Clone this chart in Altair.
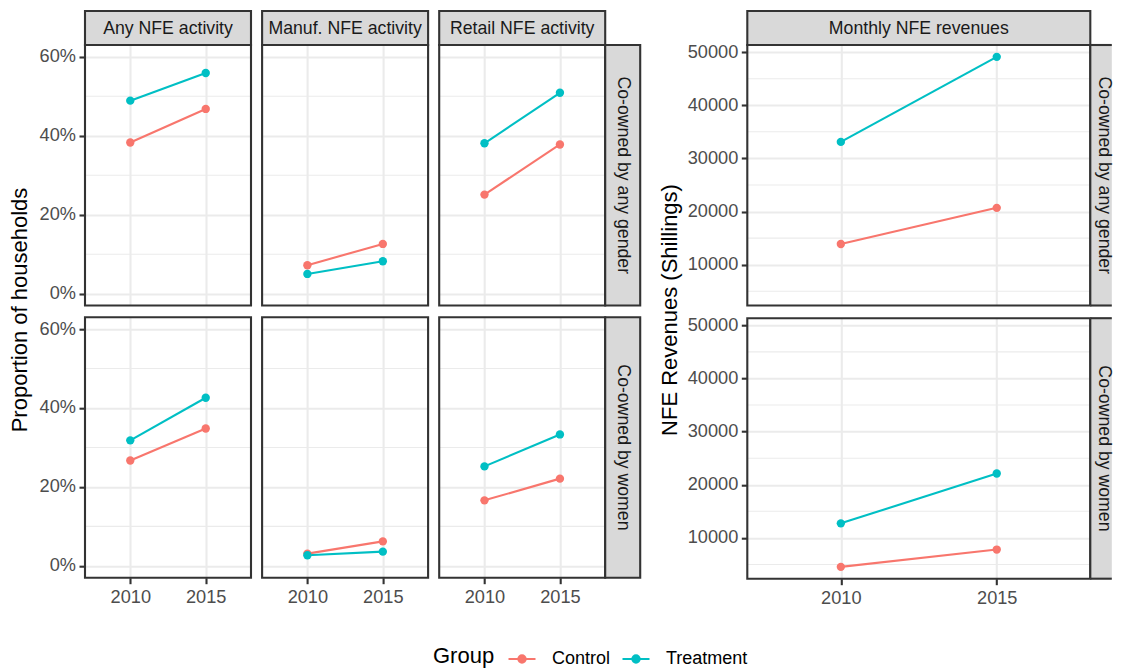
import altair as alt
import pandas as pd

FONT = "Liberation Sans"

years = [2010, 2015]
groups = ["Control", "Treatment"]
group_colors = ["#F8766D", "#00BFC4"]
activities = ["Any NFE activity", "Manuf. NFE activity", "Retail NFE activity"]
owners = ["Co-owned by any gender", "Co-owned by women"]
revenue_label = "Monthly NFE revenues"
prop_title = "Proportion of households"
rev_title = "NFE Revenues (Shillings)"

# Proportion of households, values for [2010, 2015]
any_gender_any_control = [0.383, 0.468]
any_gender_any_treatment = [0.489, 0.559]
any_gender_manuf_control = [0.072, 0.126]
any_gender_manuf_treatment = [0.050, 0.082]
any_gender_retail_control = [0.251, 0.378]
any_gender_retail_treatment = [0.381, 0.509]
women_any_control = [0.267, 0.348]
women_any_treatment = [0.318, 0.426]
women_manuf_control = [0.031, 0.062]
women_manuf_treatment = [0.027, 0.036]
women_retail_control = [0.166, 0.221]
women_retail_treatment = [0.252, 0.333]

# Monthly NFE revenues (Shillings), values for [2010, 2015]
any_gender_rev_control = [13900, 20700]
any_gender_rev_treatment = [33100, 49100]
women_rev_control = [4560, 7810]
women_rev_treatment = [12740, 22110]

prop_ticks = [0, 0.2, 0.4, 0.6]
prop_minor = [0.1, 0.3, 0.5]
prop_domain = [-0.03, 0.63]
rev_ticks = [10000, 20000, 30000, 40000, 50000]
rev_minor = [5000, 15000, 25000, 35000, 45000]
rev_domain = [2330, 51330]
x_domain = [2007, 2018]

prop_series = {
    (0, 0): (any_gender_any_control, any_gender_any_treatment),
    (0, 1): (any_gender_manuf_control, any_gender_manuf_treatment),
    (0, 2): (any_gender_retail_control, any_gender_retail_treatment),
    (1, 0): (women_any_control, women_any_treatment),
    (1, 1): (women_manuf_control, women_manuf_treatment),
    (1, 2): (women_retail_control, women_retail_treatment),
}
rev_series = {
    0: (any_gender_rev_control, any_gender_rev_treatment),
    1: (women_rev_control, women_rev_treatment),
}


def frame(ctrl, treat):
    rows = []
    for g, vals in zip(groups, (ctrl, treat)):
        for yr, v in zip(years, vals):
            rows.append({"year": yr, "value": v, "group": g})
    return pd.DataFrame(rows)


SYMBOL = "M-1,0L1,0M-0.27,0A0.27,0.27,0,1,1,0.27,0A0.27,0.27,0,1,1,-0.27,0Z"
LEGEND = alt.Legend(
    title="Group", orient="none", legendX=425, legendY=599,
    direction="horizontal", titleOrient="left",
    titleFont=FONT, titleFontSize=22, titleFontWeight="normal", titleColor="black",
    titleBaseline="middle", titlePadding=12,
    labelFont=FONT, labelFontSize=18, labelColor="black",
    symbolType=SYMBOL, symbolSize=729, symbolStrokeWidth=2.1, symbolOpacity=1,
    labelOffset=15, columnPadding=7, padding=0,
)
COLOR = alt.Color("group:N", scale=alt.Scale(domain=groups, range=group_colors), legend=LEGEND)

ONE = pd.DataFrame({"k": [0]})


def panel(df, W, H, domain, ticks, minor, fmt, left, bottom, col_label, row_label, row_strip_w, row_text_dx, open_right):
    xscale = alt.Scale(domain=x_domain, nice=False, zero=False)
    yscale = alt.Scale(domain=domain, nice=False, zero=False)
    if bottom:
        xaxis = alt.Axis(values=years, format="d", title=None, grid=True, domain=False,
                         labels=True, ticks=True, labelPadding=4.5)
    else:
        xaxis = alt.Axis(values=years, title=None, grid=True, domain=False, labels=False, ticks=False)
    yaxis = alt.Axis(values=ticks, format=fmt, title=None, grid=True, domain=False,
                     labels=left, ticks=left, labelPadding=3.5)
    X = alt.X("year:Q", scale=xscale, axis=xaxis)
    Y = alt.Y("value:Q", scale=yscale, axis=yaxis)

    minor_layer = alt.Chart(pd.DataFrame({"value": minor})).mark_rule(
        color="#EBEBEB", strokeWidth=1.05).encode(y=Y)
    lines = alt.Chart(df).mark_line(strokeWidth=2.1).encode(x=X, y=Y, color=COLOR)
    points = alt.Chart(df).mark_point(filled=True, size=70, opacity=1, strokeWidth=1).encode(
        x=X, y=Y, color=COLOR)
    border = alt.Chart(ONE).mark_rect(fillOpacity=0, stroke="#333333", strokeWidth=2.1).encode(
        x=alt.value(0), x2=alt.value(W), y=alt.value(0), y2=alt.value(H))
    layers = [minor_layer, lines, points, border]
    if col_label is not None:
        lab = pd.DataFrame({"label": [col_label]})
        layers.append(alt.Chart(lab).mark_rect(fill="#D9D9D9", stroke="#333333", strokeWidth=2.1).encode(
            x=alt.value(0), x2=alt.value(W), y=alt.value(-34), y2=alt.value(0)))
        layers.append(alt.Chart(lab).mark_text(font=FONT, fontSize=17.7, color="#1A1A1A",
                                               align="center", baseline="middle").encode(
            text="label:N", x=alt.value(W / 2), y=alt.value(-16.5)))
    if row_label is not None:
        lab = pd.DataFrame({"label": [row_label]})
        if open_right:
            layers.append(alt.Chart(lab).mark_rect(fill="#D9D9D9").encode(
                x=alt.value(W), x2=alt.value(W + row_strip_w), y=alt.value(0), y2=alt.value(H)))
            layers.append(alt.Chart(lab).mark_rule(color="#333333", strokeWidth=2.1).encode(
                x=alt.value(W), x2=alt.value(W + row_strip_w), y=alt.value(0)))
            layers.append(alt.Chart(lab).mark_rule(color="#333333", strokeWidth=2.1).encode(
                x=alt.value(W), x2=alt.value(W + row_strip_w), y=alt.value(H)))
            layers.append(alt.Chart(lab).mark_rule(color="#333333", strokeWidth=2.1).encode(
                x=alt.value(W), y=alt.value(0), y2=alt.value(H)))
        else:
            layers.append(alt.Chart(lab).mark_rect(fill="#D9D9D9", stroke="#333333", strokeWidth=2.1).encode(
                x=alt.value(W), x2=alt.value(W + row_strip_w), y=alt.value(0), y2=alt.value(H)))
        layers.append(alt.Chart(lab).mark_text(font=FONT, fontSize=17.7, color="#1A1A1A", angle=90,
                                               align="center", baseline="middle").encode(
            text="label:N", x=alt.value(W + row_text_dx), y=alt.value(H / 2)))
    return alt.layer(*layers).properties(width=W, height=H)


def title_chart(text, bx, cy, w, h):
    return alt.Chart(pd.DataFrame({"t": [text]})).mark_text(
        font=FONT, fontSize=22, color="black", angle=270, align="center", baseline="alphabetic"
    ).encode(text="t:N", x=alt.value(bx), y=alt.value(cy)).properties(width=w, height=h)


PW, PH = 166, 260.5
left_rows = []
for r in range(2):
    cells = []
    for c in range(3):
        ctrl, treat = prop_series[(r, c)]
        cells.append(panel(frame(ctrl, treat), PW, PH, prop_domain, prop_ticks, prop_minor, ".0%",
                           left=(c == 0), bottom=(r == 1),
                           col_label=activities[c] if r == 0 else None,
                           row_label=owners[r] if c == 2 else None,
                           row_strip_w=35, row_text_dx=17.5, open_right=False))
    left_rows.append(alt.hconcat(*cells, spacing=7.1))
left_block = alt.hconcat(
    title_chart(prop_title, 18.7, 265, 30, 540),
    alt.vconcat(*left_rows, spacing=8.2),
    spacing=1,
)

RW = 343
right_rows = []
for r in range(2):
    ctrl, treat = rev_series[r]
    right_rows.append(panel(frame(ctrl, treat), RW, PH, rev_domain, rev_ticks, rev_minor, "d",
                            left=True, bottom=(r == 1),
                            col_label=revenue_label if r == 0 else None,
                            row_label=owners[r], row_strip_w=21.5, row_text_dx=14, open_right=True))
right_block = alt.hconcat(
    title_chart(rev_title, 22, 265, 30, 540),
    alt.vconcat(*right_rows, spacing=8.2),
    spacing=1,
)

chart = alt.hconcat(left_block, right_block, spacing=13.3).properties(
    padding={"left": 0, "top": 1, "right": 0, "bottom": 0}
).configure_view(strokeOpacity=0, strokeWidth=0).configure_axis(
    labelFont=FONT, labelFontSize=18.2, labelColor="#4D4D4D",
    tickColor="#333333", tickWidth=2.1, tickSize=6,
    gridColor="#EBEBEB", gridWidth=2.1,
).configure_concat(spacing=10)

chart.save("out.html", embed_options={"renderer": "svg", "actions": False})
